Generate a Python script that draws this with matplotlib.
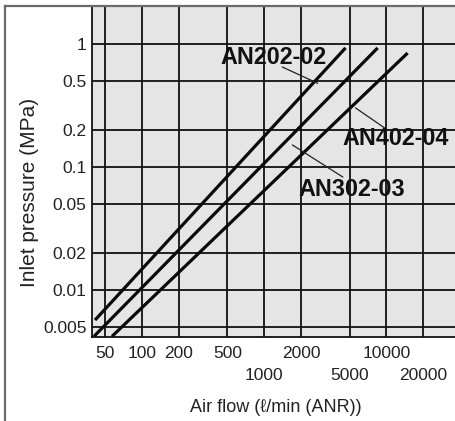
import matplotlib
matplotlib.use("Agg")

import matplotlib.pyplot as plt
from matplotlib.lines import Line2D

plt.rcParams["font.family"] = ["Liberation Sans", "DejaVu Sans"]

# axis ticks (x labels are set in two staggered rows)
x_ticks_upper = [50, 100, 200, 500, 2000, 10000]
x_labels_upper = ["50", "100", "200", "500", "2000", "10000"]
x_ticks_lower = [1000, 5000, 20000]
x_labels_lower = ["1000", "5000", "20000"]
y_ticks = [0.005, 0.01, 0.02, 0.05, 0.1, 0.2, 0.5, 1]
y_tick_labels = ["0.005", "0.01", "0.02", "0.05", "0.1", "0.2", "0.5", "1"]

# flow characteristic lines (straight on log-log paper)
models = ["AN202-02", "AN302-03", "AN402-04"]
flow_ends = [[41.4, 4630], [40.6, 8480], [57, 14900]]
pressure_ends = [[0.0057, 0.93], [0.0042, 0.93], [0.0042, 0.845]]


def main():
    fig = plt.figure(figsize=(4.55, 4.21), dpi=100)
    fig.patch.set_facecolor("white")

    # outer frame of the catalogue figure
    fig.add_artist(Line2D([5 / 455, 5 / 455], [0, 1 - 6 / 421],
                          transform=fig.transFigure, color="#6a6a6a", lw=1.6))
    fig.add_artist(Line2D([5 / 455, 1], [1 - 6 / 421, 1 - 6 / 421],
                          transform=fig.transFigure, color="#6a6a6a", lw=1.6))

    ax = fig.add_axes([92 / 455, 1 - 337 / 421, (462 - 92) / 455, (337 - 7) / 421])
    ax.set_facecolor("#e5e5e5")
    ax.set_xscale("log")
    ax.set_yscale("log")
    ax.set_xlim(39.1, 41500)
    ax.set_ylim(0.00415, 2.0)

    ax.set_xticks(x_ticks_upper)
    ax.set_xticklabels(x_labels_upper)
    ax.set_xticks(x_ticks_lower, minor=True)
    ax.set_xticklabels(x_labels_lower, minor=True)
    ax.set_yticks(y_ticks)
    ax.set_yticklabels(y_tick_labels)
    ax.set_yticks([], minor=True)
    ax.tick_params(which="both", length=0, labelsize=12.5, colors="#222222")
    ax.tick_params(axis="x", which="major", pad=6.5)
    ax.tick_params(axis="x", which="minor", pad=22)
    ax.tick_params(axis="y", pad=4)

    ax.grid(True, which="major", color="#111111", lw=1.3)
    ax.grid(True, which="minor", axis="x", color="#111111", lw=1.3)
    ax.set_axisbelow(True)
    for side in ["left", "bottom"]:
        ax.spines[side].set_color("#111111")
        ax.spines[side].set_linewidth(1.3)
    ax.spines["top"].set_visible(False)
    ax.spines["right"].set_visible(False)

    for fx, py in zip(flow_ends, pressure_ends):
        ax.plot(fx, py, color="#0a0a0a", lw=2.3, solid_capstyle="butt", zorder=3)

    # model labels with leader lines
    notes = [
        ("AN202-02", (1190, 0.77), (1410, 0.65), (2735, 0.48)),
        ("AN302-03", (5190, 0.066), (1706, 0.151), (4390, 0.083)),
        ("AN402-04", (11900, 0.169), (5600, 0.302), (10230, 0.2)),
    ]
    for name, txy, p1, p2 in notes:
        ax.plot([p1[0], p2[0]], [p1[1], p2[1]], color="#222222", lw=0.9, zorder=3)
        ax.text(txy[0], txy[1], name, ha="center", va="center", fontsize=16.8,
                fontweight="bold", color="#111111", zorder=4)

    fig.text(30 / 455, 1 - 192 / 421, "Inlet pressure (MPa)", rotation=90,
             ha="center", va="center", fontsize=15, color="#222222")
    fig.text(276 / 455, 1 - 407 / 421, "Air flow (ℓ/min (ANR))",
             ha="center", va="center", fontsize=13, color="#222222")

    fig.savefig("out.png", dpi=100)
    plt.close(fig)


if __name__ == "__main__":
    main()
